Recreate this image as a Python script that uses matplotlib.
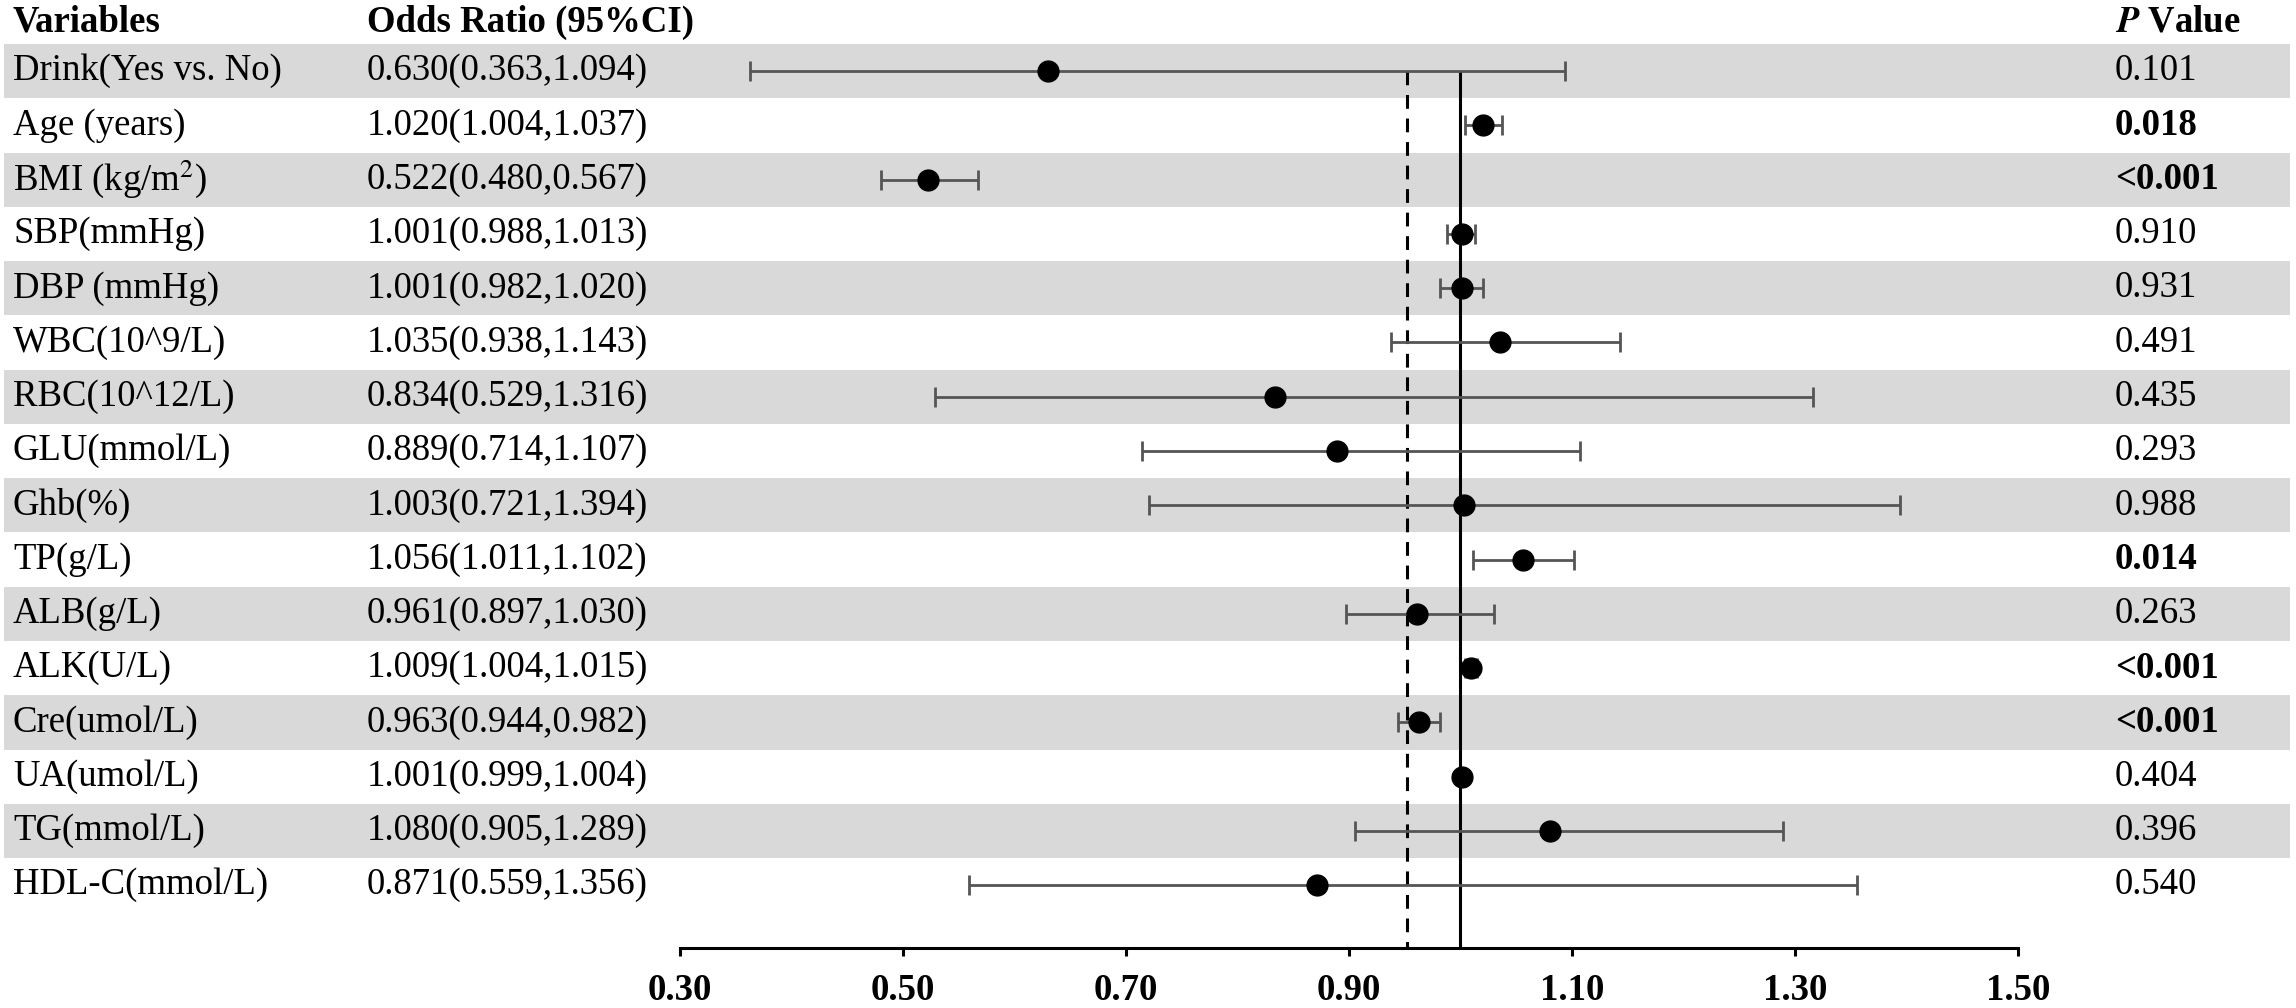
import numpy as np
import matplotlib
matplotlib.use('Agg')
import matplotlib.pyplot as plt
import matplotlib.transforms as mtransforms

# Data
variables = ['Drink(Yes vs. No)', 'Age (years)', 'BMI (kg/m$^2$)', 'SBP(mmHg)',
             'DBP (mmHg)', 'WBC(10^9/L)', 'RBC(10^12/L)', 'GLU(mmol/L)', 'Ghb(%)',
             'TP(g/L)', 'ALB(g/L)', 'ALK(U/L)', 'Cre(umol/L)', 'UA(umol/L)',
             'TG(mmol/L)', 'HDL-C(mmol/L)']
odds = [0.630, 1.020, 0.522, 1.001, 1.001, 1.035, 0.834, 0.889, 1.003,
        1.056, 0.961, 1.009, 0.963, 1.001, 1.080, 0.871]
lower = [0.363, 1.004, 0.480, 0.988, 0.982, 0.938, 0.529, 0.714, 0.721,
         1.011, 0.897, 1.004, 0.944, 0.999, 0.905, 0.559]
upper = [1.094, 1.037, 0.567, 1.013, 1.020, 1.143, 1.316, 1.107, 1.394,
         1.102, 1.030, 1.015, 0.982, 1.004, 1.289, 1.356]
p_values = ['0.101', '0.018', '<0.001', '0.910', '0.931', '0.491', '0.435', '0.293',
            '0.988', '0.014', '0.263', '<0.001', '<0.001', '0.404', '0.396', '0.540']
p_bold = [False, True, True, False, False, False, False, False,
          False, True, False, True, True, False, False, False]
xticks = [0.30, 0.50, 0.70, 0.90, 1.10, 1.30, 1.50]
ref_solid = 1.0
ref_dashed = 0.952

plt.rcParams['font.family'] = ['Liberation Serif', 'DejaVu Serif']
plt.rcParams['mathtext.fontset'] = 'stix'

W, H = 2296, 1008
fig = plt.figure(figsize=(W / 100, H / 100), dpi=100)
ax = fig.add_axes([0, 0, 1, 1])

# pixel mapping: x_px = 680 + (v - 0.3) * 1115 ; rows start at 44 px, pitch 54.27 px
sx = 1115.0
x0 = 0.3 - 680 / sx
x1 = 0.3 + (W - 680) / sx
pitch = 54.27
top = 44.0
ax.set_xlim(x0, x1)
ax.set_ylim(-0.5 + (H - top) / pitch, -0.5 - top / pitch)

n = len(variables)
y = np.arange(n)
axis_y = (948 - top) / pitch - 0.5

# alternating gray bands
for i in range(0, n, 2):
    ax.axhspan(i - 0.5, i + 0.5, xmin=4 / W, xmax=2290 / W, color='#d9d9d9', lw=0, zorder=0)

# reference lines
ax.vlines(ref_solid, 0, axis_y, color='black', lw=2.2, zorder=2)
ax.vlines(ref_dashed, 0, axis_y, color='black', lw=2.2, linestyles=(0, (4.5, 3.2)), zorder=2)

# error bars and points
odds_a = np.array(odds)
err = [odds_a - np.array(lower), np.array(upper) - odds_a]
ax.errorbar(odds_a, y, xerr=err, fmt='none', ecolor='#555555', elinewidth=2,
            capsize=7, capthick=2, zorder=3)
ax.plot(odds_a, y, 'o', color='black', markersize=15, zorder=4)

# text columns (x in figure fraction, y in data)
trans = mtransforms.blended_transform_factory(fig.transFigure, ax.transData)
fs = 26.5
hy = -0.9
ax.text(13 / W, hy, 'Variables', transform=trans, fontsize=fs, fontweight='bold', va='center')
ax.text(367 / W, hy, 'Odds Ratio (95%CI)', transform=trans, fontsize=fs, fontweight='bold', va='center')
ax.text(2115 / W, hy, r'$\bfit{P}$ Value', transform=trans, fontsize=fs, fontweight='bold', va='center')
for i in range(n):
    ax.text(13 / W, i, variables[i], transform=trans, fontsize=fs, va='center')
    ax.text(367 / W, i, f'{odds[i]:.3f}({lower[i]:.3f},{upper[i]:.3f})', transform=trans,
            fontsize=fs, va='center')
    ax.text(2115 / W, i, p_values[i], transform=trans, fontsize=fs, va='center',
            fontweight='bold' if p_bold[i] else 'normal')

# bottom axis
for s in ['top', 'left', 'right']:
    ax.spines[s].set_visible(False)
ax.spines['bottom'].set_position(('data', axis_y))
ax.spines['bottom'].set_bounds(xticks[0], xticks[-1])
ax.spines['bottom'].set_linewidth(2.2)
ax.set_xticks(xticks)
ax.set_xticklabels([f'{t:.2f}' for t in xticks], fontsize=fs, fontweight='bold')
ax.tick_params(axis='x', direction='out', length=6, width=2.2, pad=12)
ax.set_yticks([])

fig.savefig('out.png', dpi=100)
